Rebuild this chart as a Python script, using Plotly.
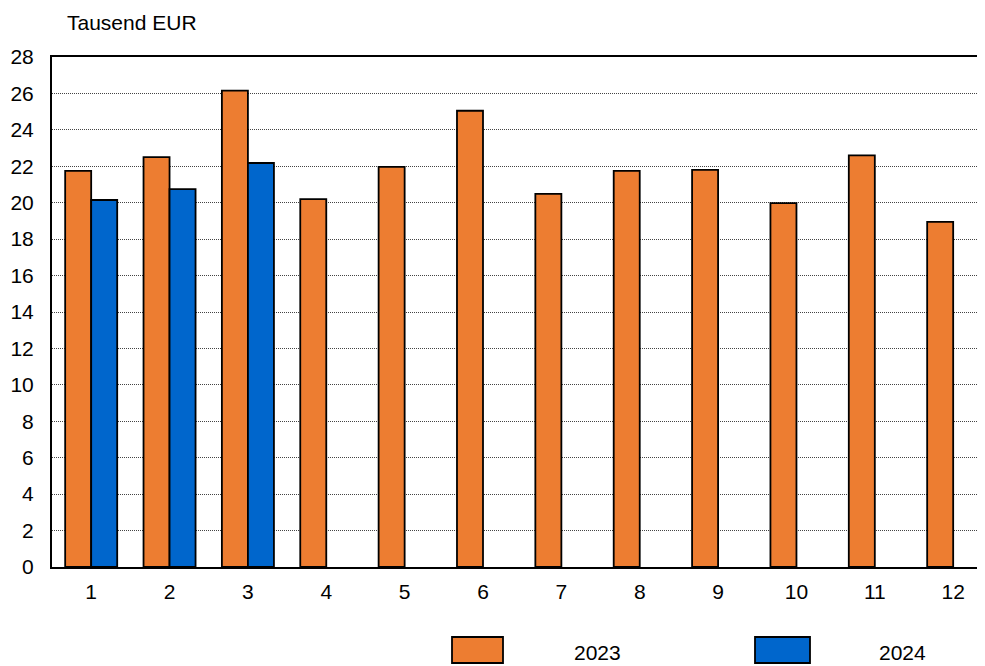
import plotly.graph_objects as go

months = [1, 2, 3, 4, 5, 6, 7, 8, 9, 10, 11, 12]
values_2023 = [21.75, 22.5, 26.15, 20.2, 21.97, 25.05, 20.48, 21.75, 21.8, 19.98, 22.6, 18.95]
months_2024 = [1, 2, 3]
values_2024 = [20.15, 20.75, 22.18]
y_ticks = list(range(0, 30, 2))

ORANGE = "#ED7D31"
BLUE = "#0066CC"
FONT = "Liberation Sans, Arial, sans-serif"
FS = 21

# figure is placed at 8px body offset in the page
L, T, W, H = 44, 49, 977, 658
PW, PH = 933, 510

fig = go.Figure()
fig.add_trace(go.Bar(x=months, y=values_2023, name="2023", marker=dict(color=ORANGE, line=dict(color="black", width=1.8))))
fig.add_trace(go.Bar(x=months_2024, y=values_2024, name="2024", marker=dict(color=BLUE, line=dict(color="black", width=1.8))))

fig.update_layout(
    width=W, height=H,
    margin=dict(l=L, r=0, t=T, b=H - T - PH, pad=0),
    paper_bgcolor="white", plot_bgcolor="white",
    barmode="group", bargap=0.336, bargroupgap=0,
    showlegend=False,
    font=dict(family=FONT, size=FS, color="black"),
    xaxis=dict(range=[0.5, 12.406], tickmode="array", tickvals=months, ticktext=[str(m) for m in months],
               showline=True, linecolor="black", linewidth=2, mirror=True, showgrid=False,
               ticks="", tickfont=dict(size=FS), zeroline=False, ticklabelstandoff=5),
    yaxis=dict(range=[0, 28], tickmode="array", tickvals=y_ticks, ticktext=[str(t) for t in y_ticks],
               showline=True, linecolor="black", linewidth=2, showgrid=True, gridcolor="#444444",
               griddash="1px,1px", gridwidth=1, ticks="", tickfont=dict(size=FS), zeroline=False,
               ticklabelstandoff=12),
)

fig.add_annotation(text="Tausend EUR", xref="paper", yref="paper", x=(57 - L) / PW, y=1 + (T - 14) / PH,
                   xanchor="left", yanchor="middle", showarrow=False, font=dict(size=FS))

# legend
legend_items = [("2023", ORANGE, 444, 495, 589), ("2024", BLUE, 747, 802, 894)]
for label, col, x0, x1, tx in legend_items:
    fig.add_shape(type="rect", xref="paper", yref="paper",
                  x0=(x0 - L) / PW, x1=(x1 - L) / PW,
                  y0=-(655 - (T + PH)) / PH, y1=-(629 - (T + PH)) / PH,
                  fillcolor=col, line=dict(color="black", width=1.8))
    fig.add_annotation(text=label, xref="paper", yref="paper", x=(tx - L) / PW, y=-(644 - (T + PH)) / PH,
                       xanchor="center", yanchor="middle", showarrow=False, font=dict(size=FS))

fig.write_html("out.html")
